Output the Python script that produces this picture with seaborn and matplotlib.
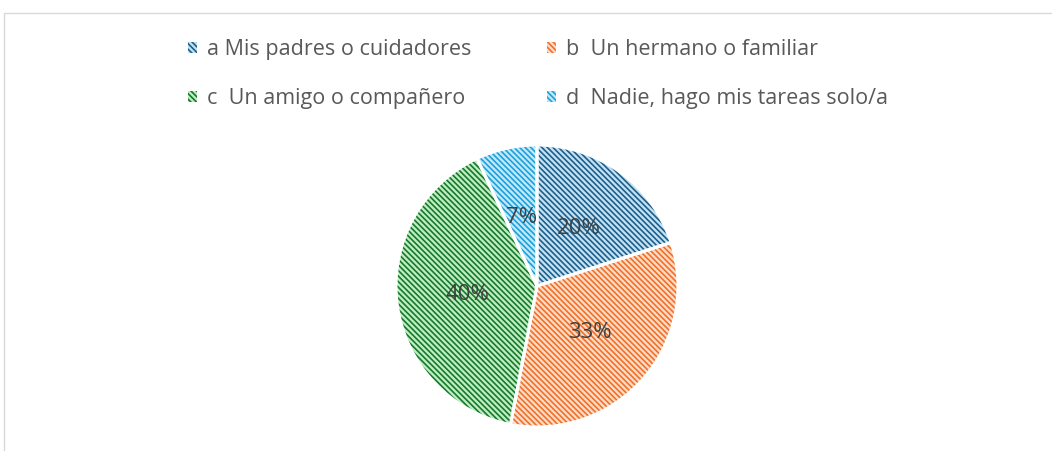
import matplotlib
matplotlib.use('Agg')
import matplotlib.pyplot as plt
import seaborn as sns
from matplotlib.patches import Patch, Rectangle

# data
labels = ['a Mis padres o cuidadores', 'b  Un hermano o familiar',
          'c  Un amigo o compañero', 'd  Nadie, hago mis tareas solo/a']
values = [20, 33, 40, 7]
face_colors = ['#c3e2f3', '#fddcc6', '#bfeec0', '#c2e9fa']
hatch_colors = ['#1d5e8c', '#f0702a', '#16782e', '#1ba1dc']
HATCH = '\\' * 6

sns.set_theme(style='white')
plt.rcParams['font.family'] = ['Open Sans', 'DejaVu Sans']
plt.rcParams['hatch.linewidth'] = 1.2

fig = plt.figure(figsize=(10.52, 4.51), dpi=100)
ax = fig.add_axes([537 / 1052 - 141 / 1052, (451 - 427) / 451, 282 / 1052, 282 / 451])

# hatched wedges (hatch colour comes from edgecolor)
wedges, texts, autotexts = ax.pie(
    values, startangle=90, counterclock=False, colors=face_colors,
    autopct='%1.0f%%', pctdistance=0.5,
    wedgeprops=dict(linewidth=0, hatch=HATCH),
    textprops=dict(fontsize=16, color='#404040'))
for w, hc in zip(wedges, hatch_colors):
    w.set_edgecolor(hc)

# white separators on top
outline, _ = ax.pie(values, startangle=90, counterclock=False,
                    wedgeprops=dict(facecolor='none', edgecolor='white', linewidth=2.2))
for t in autotexts:
    t.set_zorder(5)

ax.set_xlim(-1, 1)
ax.set_ylim(-1, 1)
ax.set_aspect('equal')

# legend, row-wise order
handles = [Patch(facecolor=f, edgecolor=h, hatch=HATCH, linewidth=0)
           for f, h in zip(face_colors, hatch_colors)]
order = [0, 2, 1, 3]
leg = fig.legend([handles[i] for i in order], [labels[i] for i in order],
                 ncol=2, loc='upper left', bbox_to_anchor=(188 / 1052, 1 - 39 / 451),
                 frameon=False, fontsize=15.5, handlelength=0.4, handleheight=0.4,
                 handletextpad=0.5, labelspacing=1.3, columnspacing=3.5,
                 borderaxespad=0, borderpad=0)
for t in leg.get_texts():
    t.set_color('#595959')

# chart area frame (cropped at right and bottom)
fig.add_artist(Rectangle((4 / 1052, -0.2), 1.2, 1.2 - 13 / 451, transform=fig.transFigure,
                         fill=False, edgecolor='#d9d9d9', linewidth=1))

fig.savefig('out.png', dpi=100)
